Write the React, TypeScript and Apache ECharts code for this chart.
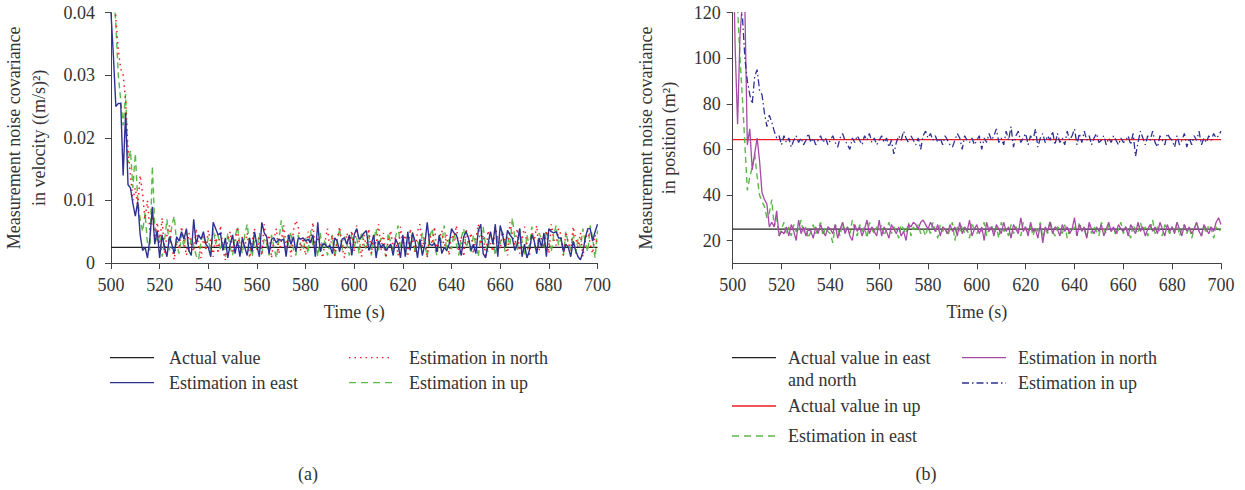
import React, { useEffect, useRef } from "react";
import * as echarts from "echarts";

// ---------- DATA ----------
const time = [
  500, 501, 502, 503, 504, 505, 506, 507, 508, 509, 510, 511, 512, 513, 514, 515, 516, 517, 518, 519,
  520, 521, 522, 523, 524, 525, 526, 527, 528, 529, 530, 531, 532, 533, 534, 535, 536, 537, 538, 539,
  540, 541, 542, 543, 544, 545, 546, 547, 548, 549, 550, 551, 552, 553, 554, 555, 556, 557, 558, 559,
  560, 561, 562, 563, 564, 565, 566, 567, 568, 569, 570, 571, 572, 573, 574, 575, 576, 577, 578, 579,
  580, 581, 582, 583, 584, 585, 586, 587, 588, 589, 590, 591, 592, 593, 594, 595, 596, 597, 598, 599,
  600, 601, 602, 603, 604, 605, 606, 607, 608, 609, 610, 611, 612, 613, 614, 615, 616, 617, 618, 619,
  620, 621, 622, 623, 624, 625, 626, 627, 628, 629, 630, 631, 632, 633, 634, 635, 636, 637, 638, 639,
  640, 641, 642, 643, 644, 645, 646, 647, 648, 649, 650, 651, 652, 653, 654, 655, 656, 657, 658, 659,
  660, 661, 662, 663, 664, 665, 666, 667, 668, 669, 670, 671, 672, 673, 674, 675, 676, 677, 678, 679,
  680, 681, 682, 683, 684, 685, 686, 687, 688, 689, 690, 691, 692, 693, 694, 695, 696, 697, 698, 699, 700,
];

// (a) velocity noise covariance ((m/s)^2)
const velActual = 0.0025;
const velEast = [
  0.040, 0.033, 0.025, 0.0255, 0.0255, 0.014, 0.024, 0.0125, 0.012, 0.0095, 0.0075, 0.0098, 0.0045, 0.0020, 0.0025, 0.0008, 0.0040, 0.0090, 0.0030, 0.0052,
  0.0008, 0.0045, 0.0025, 0.0010, 0.0042, 0.0030, 0.0015, 0.0042, 0.0035, 0.0050, 0.0038, 0.0055, 0.0020, 0.0012, 0.0070, 0.0030, 0.0045, 0.0038, 0.0050, 0.0030,
  0.0025, 0.0010, 0.0065, 0.0055, 0.0045, 0.0048, 0.0020, 0.0040, 0.0008, 0.0030, 0.0045, 0.0015, 0.0035, 0.0010, 0.0040, 0.0025, 0.0012, 0.0040, 0.0018, 0.0050,
  0.0028, 0.0010, 0.0065, 0.0048, 0.0042, 0.0015, 0.0038, 0.0040, 0.0032, 0.0038, 0.0036, 0.0038, 0.0010, 0.0045, 0.0030, 0.0042, 0.0018, 0.0040, 0.0038, 0.0040,
  0.0035, 0.0038, 0.0032, 0.0045, 0.0010, 0.0065, 0.0018, 0.0030, 0.0030, 0.0025, 0.0028, 0.0015, 0.0040, 0.0035, 0.0018, 0.0038, 0.0040, 0.0030, 0.0045, 0.0012,
  0.0045, 0.0055, 0.0038, 0.0042, 0.0048, 0.0052, 0.0020, 0.0030, 0.0045, 0.0008, 0.0035, 0.0025, 0.0030, 0.0020, 0.0025, 0.0030, 0.0012, 0.0038, 0.0030, 0.0008,
  0.0045, 0.0010, 0.0050, 0.0020, 0.0048, 0.0035, 0.0008, 0.0038, 0.0012, 0.0030, 0.0065, 0.0030, 0.0028, 0.0032, 0.0018, 0.0045, 0.0015, 0.0025, 0.0020, 0.0030,
  0.0055, 0.0048, 0.0045, 0.0030, 0.0012, 0.0042, 0.0050, 0.0040, 0.0020, 0.0030, 0.0015, 0.0052, 0.0062, 0.0015, 0.0008, 0.0030, 0.0050, 0.0030, 0.0062, 0.0010,
  0.0060, 0.0045, 0.0025, 0.0052, 0.0045, 0.0040, 0.0020, 0.0030, 0.0055, 0.0010, 0.0030, 0.0008, 0.0020, 0.0045, 0.0035, 0.0015, 0.0040, 0.0025, 0.0048, 0.0010,
  0.0055, 0.0050, 0.0048, 0.0050, 0.0040, 0.0040, 0.0018, 0.0030, 0.0025, 0.0010, 0.0035, 0.0020, 0.0010, 0.0005, 0.0018, 0.0040, 0.0055, 0.0055, 0.0035, 0.0050, 0.0062,
];
const velNorth = [
  0.052, 0.045, 0.039, 0.034, 0.031, 0.030, 0.026, 0.018, 0.014, 0.010, 0.012, 0.009, 0.014, 0.011, 0.007, 0.010, 0.005, 0.008, 0.004, 0.0065,
  0.0030, 0.0072, 0.0015, 0.0045, 0.0060, 0.0025, 0.0005, 0.0040, 0.0022, 0.0058, 0.0035, 0.0012, 0.0048, 0.0030, 0.0018, 0.0055, 0.0028, 0.0008, 0.0042, 0.0020,
  0.0052, 0.0033, 0.0010, 0.0045, 0.0015, 0.0060, 0.0022, 0.0005, 0.0038, 0.0050, 0.0018, 0.0030, 0.0058, 0.0012, 0.0042, 0.0025, 0.0048, 0.0008, 0.0035, 0.0055,
  0.0020, 0.0040, 0.0012, 0.0062, 0.0030, 0.0045, 0.0008, 0.0038, 0.0055, 0.0015, 0.0035, 0.0060, 0.0025, 0.0048, 0.0010, 0.0052, 0.0068, 0.0058, 0.0020, 0.0040,
  0.0012, 0.0050, 0.0030, 0.0065, 0.0018, 0.0042, 0.0028, 0.0008, 0.0035, 0.0055, 0.0022, 0.0045, 0.0012, 0.0038, 0.0058, 0.0025, 0.0008, 0.0048, 0.0030, 0.0052,
  0.0018, 0.0060, 0.0035, 0.0010, 0.0045, 0.0025, 0.0055, 0.0015, 0.0040, 0.0030, 0.0062, 0.0020, 0.0048, 0.0008, 0.0036, 0.0052, 0.0022, 0.0042, 0.0012, 0.0058,
  0.0028, 0.0045, 0.0010, 0.0055, 0.0035, 0.0018, 0.0050, 0.0062, 0.0025, 0.0040, 0.0008, 0.0048, 0.0030, 0.0058, 0.0015, 0.0038, 0.0052, 0.0022, 0.0045, 0.0012,
  0.0050, 0.0035, 0.0060, 0.0020, 0.0042, 0.0010, 0.0055, 0.0030, 0.0048, 0.0015, 0.0038, 0.0062, 0.0025, 0.0045, 0.0008, 0.0052, 0.0032, 0.0018, 0.0058, 0.0040,
  0.0022, 0.0050, 0.0035, 0.0012, 0.0065, 0.0045, 0.0028, 0.0055, 0.0015, 0.0040, 0.0058, 0.0030, 0.0010, 0.0048, 0.0035, 0.0060, 0.0020, 0.0042, 0.0025, 0.0052,
  0.0015, 0.0062, 0.0038, 0.0028, 0.0055, 0.0045, 0.0012, 0.0050, 0.0032, 0.0020, 0.0058, 0.0040, 0.0025, 0.0048, 0.0010, 0.0035, 0.0052, 0.0030, 0.0015, 0.0045, 0.0028,
];
const velUp = [
  0.048, 0.044, 0.038, 0.030, 0.026, 0.022, 0.027, 0.016, 0.018, 0.012, 0.0175, 0.010, 0.007, 0.005, 0.008, 0.003, 0.002, 0.0155, 0.006, 0.0035,
  0.0045, 0.0010, 0.0035, 0.0070, 0.0020, 0.0060, 0.0075, 0.0030, 0.0015, 0.0045, 0.0025, 0.0050, 0.0018, 0.0040, 0.0028, 0.0012, 0.0005, 0.0035, 0.0048, 0.0022,
  0.0040, 0.0015, 0.0055, 0.0030, 0.0045, 0.0020, 0.0035, 0.0010, 0.0048, 0.0025, 0.0012, 0.0042, 0.0058, 0.0030, 0.0015, 0.0045, 0.0062, 0.0028, 0.0010, 0.0035,
  0.0022, 0.0048, 0.0015, 0.0038, 0.0030, 0.0012, 0.0045, 0.0025, 0.0008, 0.0035, 0.0068, 0.0040, 0.0018, 0.0032, 0.0050, 0.0022, 0.0012, 0.0045, 0.0030, 0.0020,
  0.0040, 0.0015, 0.0052, 0.0028, 0.0035, 0.0010, 0.0048, 0.0022, 0.0038, 0.0012, 0.0030, 0.0045, 0.0008, 0.0035, 0.0055, 0.0020, 0.0042, 0.0030, 0.0012, 0.0048,
  0.0025, 0.0040, 0.0015, 0.0050, 0.0030, 0.0022, 0.0045, 0.0012, 0.0035, 0.0055, 0.0020, 0.0040, 0.0028, 0.0010, 0.0048, 0.0032, 0.0018, 0.0042, 0.0060, 0.0025,
  0.0038, 0.0012, 0.0045, 0.0028, 0.0050, 0.0015, 0.0035, 0.0022, 0.0048, 0.0030, 0.0010, 0.0040, 0.0055, 0.0025, 0.0012, 0.0045, 0.0032, 0.0060, 0.0018, 0.0038,
  0.0022, 0.0048, 0.0030, 0.0012, 0.0040, 0.0055, 0.0025, 0.0035, 0.0015, 0.0045, 0.0030, 0.0010, 0.0042, 0.0058, 0.0028, 0.0018, 0.0048, 0.0035, 0.0012, 0.0040,
  0.0030, 0.0050, 0.0018, 0.0042, 0.0028, 0.0072, 0.0040, 0.0020, 0.0055, 0.0035, 0.0012, 0.0045, 0.0025, 0.0058, 0.0032, 0.0015, 0.0048, 0.0038, 0.0022, 0.0052,
  0.0035, 0.0018, 0.0045, 0.0060, 0.0028, 0.0040, 0.0012, 0.0050, 0.0030, 0.0022, 0.0048, 0.0015, 0.0038, 0.0025, 0.0055, 0.0032, 0.0018, 0.0060, 0.0040, 0.0008, 0.0052,
];

// (b) position noise covariance (m^2)
const posActualEN = 25;
const posActualUp = 64.3;
const posEast = [
  175, 150, 122, 100, 82, 62, 42, 48, 52, 58, 48, 40, 37, 35, 30, 32, 38, 26, 30, 22,
  25, 28, 23, 26, 22, 27, 24, 25, 29, 23, 26, 21, 24, 27, 23, 25, 28, 22, 26, 24,
  23, 19, 27, 25, 22, 28, 24, 26, 23, 29, 25, 22, 27, 24, 26, 21, 28, 25, 23, 26,
  24, 27, 22, 25, 28, 23, 26, 24, 21, 27, 25, 23, 28, 22, 26, 24, 27, 23, 25, 22,
  26, 23, 28, 25, 21, 27, 24, 26, 22, 25, 28, 20, 26, 24, 27, 23, 25, 21, 28, 24,
  23, 26, 24, 28, 22, 25, 27, 23, 26, 21, 28, 24, 25, 22, 27, 23, 26, 24, 22, 28,
  25, 23, 27, 22, 26, 24, 28, 21, 25, 23, 29, 24, 22, 26, 25, 23, 27, 21, 25, 24,
  26, 22, 28, 24, 25, 21, 27, 23, 26, 24, 22, 28, 25, 23, 27, 24, 26, 22, 25, 28,
  23, 26, 24, 21, 27, 25, 23, 28, 24, 26, 22, 25, 29, 23, 26, 24, 22, 27, 25, 23,
  26, 24, 28, 22, 25, 27, 23, 26, 21, 25, 28, 24, 22, 26, 23, 27, 25, 21, 26, 24, 25,
];
const posNorth = [
  160, 105, 71, 110, 125, 122, 62, 69, 51, 58, 65, 55, 41, 38, 36, 26, 28, 26, 33, 22,
  24, 23, 26, 22, 27, 24, 20, 29, 23, 26, 22, 25, 24, 21, 26, 23, 27, 24, 22, 26,
  25, 23, 27, 21, 25, 28, 23, 26, 22, 20, 27, 24, 26, 22, 25, 29, 23, 26, 24, 22,
  29, 22, 26, 24, 21, 27, 25, 23, 26, 22, 24, 20, 27, 26, 28, 27, 25, 28, 29, 27,
  25, 28, 26, 24, 27, 22, 26, 25, 23, 27, 24, 26, 22, 28, 23, 26, 24, 29, 22, 25,
  27, 23, 26, 20, 28, 24, 26, 22, 27, 25, 23, 28, 24, 26, 21, 27, 25, 23, 30, 24,
  26, 22, 28, 24, 25, 21, 27, 19, 26, 24, 28, 23, 26, 25, 22, 27, 24, 26, 23, 25,
  30, 22, 27, 24, 26, 21, 28, 25, 23, 26, 24, 27, 22, 25, 28, 24, 26, 23, 27, 25,
  24, 26, 22, 27, 25, 23, 28, 24, 26, 22, 25, 27, 24, 26, 23, 28, 25, 22, 27, 24,
  26, 23, 28, 25, 22, 27, 24, 26, 23, 25, 28, 24, 22, 27, 25, 23, 26, 24, 28, 30, 27,
];
const posUp = [
  200, 170, 140, 122, 118, 100, 90, 84, 80, 92, 95, 86, 84, 76, 70, 75, 72, 68, 65, 66,
  62, 66, 63, 65, 61, 64, 66, 63, 65, 62, 64, 67, 63, 65, 62, 64, 66, 63, 65, 62,
  64, 66, 63, 61, 65, 67, 64, 62, 60, 65, 63, 66, 64, 62, 66, 64, 67, 63, 65, 62,
  64, 66, 63, 65, 61, 64, 58, 63, 66, 64, 68, 65, 63, 66, 64, 62, 65, 60, 66, 68,
  65, 67, 64, 66, 63, 65, 62, 66, 64, 62, 61, 64, 67, 65, 60, 66, 64, 63, 65, 62,
  64, 66, 60, 65, 63, 67, 64, 66, 69, 63, 65, 62, 68, 64, 70, 61, 66, 68, 63, 65,
  67, 62, 66, 64, 69, 61, 65, 67, 63, 66, 64, 68, 62, 67, 63, 65, 62, 68, 64, 66,
  69, 62, 67, 63, 68, 64, 66, 62, 65, 67, 63, 64, 66, 62, 65, 63, 66, 64, 62, 65,
  63, 64, 66, 62, 67, 57, 63, 68, 65, 62, 66, 64, 68, 63, 61, 66, 64, 62, 67, 65,
  64, 61, 66, 62, 64, 67, 61, 65, 62, 66, 64, 68, 62, 65, 63, 66, 64, 67, 65, 66, 68,
];

const xTicks = { min: 500, max: 700, interval: 20 };
const velTicks = { min: 0, max: 0.04, interval: 0.01 };
const posTickValues = [20, 40, 60, 80, 100, 120];
const posRange = { min: 10, max: 120 };

// ---------- STYLE ----------
const FONT = '"Liberation Serif", "Times New Roman", serif';
const TXT = "#333333";
const BLACK = "#231f20";
const NAVY = "#2e3192";
const RED = "#ed1c24";
const GREEN = "#5cb848";
const MAGENTA = "#a64aa6";

const pairs = (ys: number[]) => time.map((t, i) => [t, ys[i]]);
const flat = (v: number) => [
  [time[0], v],
  [time[time.length - 1], v],
];

function axisX(gridIndex: number) {
  return {
    gridIndex,
    type: "value",
    min: xTicks.min,
    max: xTicks.max,
    interval: xTicks.interval,
    name: "Time (s)",
    nameLocation: "middle",
    nameGap: 40,
    nameTextStyle: { fontFamily: FONT, fontSize: 18, color: TXT },
    axisLine: { show: true, onZero: false, lineStyle: { color: "#444", width: 1 } },
    axisTick: { show: true, length: 6, lineStyle: { color: "#444" } },
    axisLabel: { fontFamily: FONT, fontSize: 18, color: TXT, margin: 13 },
    splitLine: { show: false },
  };
}

export default function App() {
  const ref = useRef<HTMLDivElement>(null);
  useEffect(() => {
    if (!ref.current) return;
    const chart = echarts.init(ref.current, null, { renderer: "svg" });
    const legLine = (x1: number, y: number, color: string, dash: any, w = 1.3) => ({
      type: "line",
      shape: { x1, y1: y, x2: x1 + 44, y2: y },
      style: { stroke: color, lineWidth: w, lineDash: dash },
      silent: true,
    });
    const legText = (x: number, y: number, text: string, va = "middle") => ({
      type: "text",
      x,
      y,
      style: {
        text,
        fill: TXT,
        font: `18px ${FONT}`,
        verticalAlign: va,
        align: "left",
        lineHeight: 22,
      },
      silent: true,
    });
    const option: any = {
      animation: false,
      backgroundColor: "#ffffff",
      grid: [
        { left: 110, top: 12.7, width: 487.5, height: 250.3 },
        { left: 732.7, top: 12.7, width: 488.3, height: 250.6 },
      ],
      xAxis: [axisX(0), axisX(1)],
      yAxis: [
        {
          gridIndex: 0,
          type: "value",
          min: velTicks.min,
          max: velTicks.max,
          interval: velTicks.interval,
          name: "Measurement noise covariance\nin velocity ((m/s)²)",
          nameLocation: "middle",
          nameGap: 60,
          nameTextStyle: { fontFamily: FONT, fontSize: 18, color: TXT, lineHeight: 25 },
          axisLine: { show: true, onZero: false, lineStyle: { color: "#444", width: 1 } },
          axisTick: { show: true, length: 6, lineStyle: { color: "#444" } },
          axisLabel: {
            fontFamily: FONT,
            fontSize: 18,
            color: TXT,
            margin: 16,
            formatter: (v: number) => (v === 0 ? "0" : v.toFixed(2)),
          },
          splitLine: { show: false },
        },
        {
          gridIndex: 1,
          type: "value",
          min: posRange.min,
          max: posRange.max,
          interval: 10,
          name: "Measurement noise covariance\nin position (m²)",
          nameLocation: "middle",
          nameGap: 52,
          nameTextStyle: { fontFamily: FONT, fontSize: 18, color: TXT, lineHeight: 23 },
          axisLine: { show: true, onZero: false, lineStyle: { color: "#444", width: 1 } },
          axisTick: { show: true, length: 6, lineStyle: { color: "#444" }, customValues: posTickValues },
          axisLabel: { fontFamily: FONT, fontSize: 18, color: TXT, margin: 12, customValues: posTickValues },
          splitLine: { show: false },
        },
      ],
      series: [
        {
          name: "Actual value",
          type: "line",
          xAxisIndex: 0,
          yAxisIndex: 0,
          data: flat(velActual),
          symbol: "none",
          lineStyle: { color: BLACK, width: 1.2 },
        },
        {
          name: "Estimation in up",
          type: "line",
          xAxisIndex: 0,
          yAxisIndex: 0,
          data: pairs(velUp),
          symbol: "none",
          lineStyle: { color: GREEN, width: 1.4, type: [6, 4] },
        },
        {
          name: "Estimation in north",
          type: "line",
          xAxisIndex: 0,
          yAxisIndex: 0,
          data: pairs(velNorth),
          symbol: "none",
          lineStyle: { color: RED, width: 1.5, type: [1.5, 4] },
        },
        {
          name: "Estimation in east",
          type: "line",
          xAxisIndex: 0,
          yAxisIndex: 0,
          data: pairs(velEast),
          symbol: "none",
          lineStyle: { color: NAVY, width: 1.4 },
        },
        {
          name: "Actual value in east and north",
          type: "line",
          xAxisIndex: 1,
          yAxisIndex: 1,
          data: flat(posActualEN),
          symbol: "none",
          lineStyle: { color: BLACK, width: 1.2 },
        },
        {
          name: "Actual value in up",
          type: "line",
          xAxisIndex: 1,
          yAxisIndex: 1,
          data: flat(posActualUp),
          symbol: "none",
          lineStyle: { color: RED, width: 1.4 },
        },
        {
          name: "Estimation in east (position)",
          type: "line",
          xAxisIndex: 1,
          yAxisIndex: 1,
          data: pairs(posEast),
          symbol: "none",
          lineStyle: { color: GREEN, width: 1.4, type: [6, 4] },
        },
        {
          name: "Estimation in north (position)",
          type: "line",
          xAxisIndex: 1,
          yAxisIndex: 1,
          data: pairs(posNorth),
          symbol: "none",
          lineStyle: { color: MAGENTA, width: 1.3 },
        },
        {
          name: "Estimation in up (position)",
          type: "line",
          xAxisIndex: 1,
          yAxisIndex: 1,
          data: pairs(posUp),
          symbol: "none",
          lineStyle: { color: NAVY, width: 1.3, type: [7, 3, 1.5, 3] },
        },
      ],
      graphic: [
        // legend (a)
        legLine(110, 357.7, BLACK, null),
        legText(169, 357.7, "Actual value"),
        legLine(110, 382.7, NAVY, null),
        legText(169, 382.7, "Estimation in east"),
        legLine(349, 357.7, RED, [1.5, 4]),
        legText(409, 357.7, "Estimation in north"),
        legLine(349, 382.7, GREEN, [7, 5]),
        legText(409, 382.7, "Estimation in up"),
        // legend (b)
        legLine(732, 357.7, BLACK, null),
        legText(788, 346.7, "Actual value in east\nand north", "top"),
        legLine(732, 406, RED, null),
        legText(788, 406, "Actual value in up"),
        legLine(732, 436, GREEN, [7, 5]),
        legText(788, 436, "Estimation in east"),
        legLine(962, 357.7, MAGENTA, null),
        legText(1018, 357.7, "Estimation in north"),
        legLine(962, 383, NAVY, [7, 3, 1.5, 3]),
        legText(1018, 383, "Estimation in up"),
        // panel labels
        {
          type: "text",
          x: 308,
          y: 474,
          style: { text: "(a)", fill: TXT, font: `18px ${FONT}`, align: "center", verticalAlign: "middle" },
        },
        {
          type: "text",
          x: 926,
          y: 474,
          style: { text: "(b)", fill: TXT, font: `18px ${FONT}`, align: "center", verticalAlign: "middle" },
        },
      ],
    };
    chart.setOption(option);
    return () => chart.dispose();
  }, []);
  return (
    <div
      ref={ref}
      style={{ position: "fixed", left: 0, top: 0, width: 1245, height: 490, background: "#fff" }}
    />
  );
}
